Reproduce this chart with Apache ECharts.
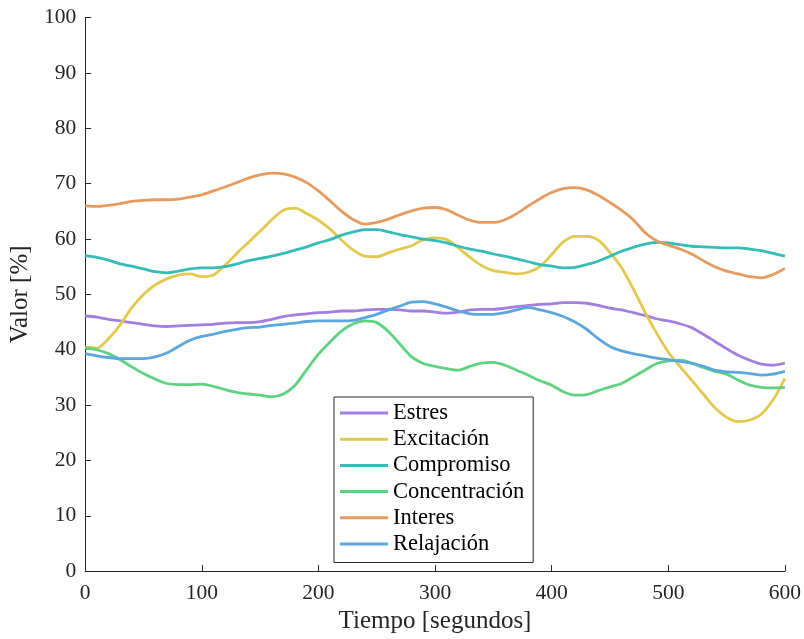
<!DOCTYPE html>
<html>
<head>
<meta charset="utf-8">
<script src="https://cdn.jsdelivr.net/npm/echarts@6/dist/echarts.min.js"></script>
<style>
  html, body { margin: 0; padding: 0; background: #fff; }
  #chart { width: 804px; height: 639px; }
</style>
</head>
<body>
<div id="chart"></div>
<script>
// Sample times in seconds (every 10 s)
const tiempo = [0,10,20,30,40,50,60,70,80,90,100,110,120,130,140,150,160,170,180,190,200,
  210,220,230,240,250,260,270,280,290,300,310,320,330,340,350,360,370,380,390,400,
  410,420,430,440,450,460,470,480,490,500,510,520,530,540,550,560,570,580,590,600];

const estres = [46.1,45.9,45.5,45.2,44.9,44.6,44.3,44.2,44.3,44.4,44.5,44.6,44.8,44.9,44.9,45.1,45.5,46.0,46.3,46.5,46.7,
  46.8,47.0,47.0,47.2,47.3,47.3,47.2,47.0,47.0,46.8,46.6,46.8,47.2,47.3,47.3,47.5,47.8,48.0,48.2,48.3,
  48.5,48.5,48.4,48.0,47.5,47.2,46.7,46.2,45.6,45.2,44.7,44.0,42.8,41.5,40.2,39.0,38.1,37.4,37.2,37.6];

const excitacion = [40.5,40.3,42.0,44.5,47.6,50.0,51.7,52.8,53.5,53.7,53.2,53.5,55.3,57.4,59.4,61.4,63.5,65.2,65.6,64.6,63.4,
  61.8,59.8,58.0,56.9,56.8,57.5,58.2,58.8,59.9,60.2,59.9,58.4,56.7,55.2,54.3,54.0,53.7,54.0,55.0,57.2,
  59.5,60.5,60.5,59.8,57.6,54.8,51.0,46.8,43.0,39.6,37.0,34.5,32.0,29.5,27.8,27.0,27.3,28.4,31.0,34.8];

const compromiso = [57.0,56.7,56.2,55.5,55.1,54.6,54.1,53.9,54.2,54.6,54.8,54.8,55.0,55.5,56.1,56.5,56.9,57.4,58.0,58.6,59.3,
  59.9,60.7,61.3,61.7,61.7,61.3,60.8,60.4,60.0,59.7,59.3,58.7,58.2,57.8,57.3,56.9,56.4,55.9,55.4,55.1,
  54.8,54.9,55.4,56.0,56.9,57.8,58.5,59.1,59.4,59.3,59.0,58.7,58.6,58.5,58.4,58.4,58.2,57.9,57.4,56.9];

const concentracion = [40.3,40.0,39.3,38.2,36.9,35.7,34.7,33.9,33.7,33.7,33.8,33.4,32.8,32.3,32.0,31.8,31.5,32.0,33.6,36.4,39.2,
  41.4,43.4,44.7,45.2,44.9,43.3,41.0,38.7,37.5,37.0,36.6,36.3,37.0,37.6,37.7,37.2,36.3,35.4,34.4,33.6,
  32.4,31.8,31.9,32.6,33.3,33.9,35.1,36.3,37.5,38.0,38.1,37.6,36.8,36.1,35.6,34.5,33.6,33.2,33.1,33.2];

const interes = [66.0,65.9,66.1,66.4,66.8,67.0,67.1,67.1,67.2,67.6,68.0,68.7,69.4,70.2,71.0,71.6,71.9,71.8,71.2,70.2,68.7,
  66.9,65.0,63.5,62.7,63.0,63.6,64.4,65.1,65.6,65.7,65.3,64.3,63.4,63.0,63.0,63.5,64.6,66.0,67.3,68.4,
  69.1,69.3,68.9,67.9,66.6,65.2,63.5,61.2,59.7,58.9,58.2,57.3,56.1,55.0,54.2,53.7,53.2,53.0,53.6,54.7];

const relajacion = [39.3,38.9,38.6,38.4,38.4,38.4,38.7,39.4,40.6,41.7,42.4,42.8,43.3,43.7,44.0,44.1,44.4,44.6,44.8,45.1,45.2,
  45.2,45.2,45.3,45.8,46.4,47.2,47.9,48.6,48.7,48.3,47.7,47.0,46.5,46.4,46.4,46.7,47.2,47.6,47.2,46.7,
  46.0,45.0,43.7,42.0,40.6,39.8,39.3,38.9,38.5,38.2,37.9,37.6,37.0,36.3,36.0,35.9,35.7,35.4,35.6,36.1];

const nombres = ['Estres', 'Excitación', 'Compromiso', 'Concentración', 'Interes', 'Relajación'];
const valores = [estres, excitacion, compromiso, concentracion, interes, relajacion];
const colores = ['#a07fe0', '#e2c84c', '#34bcb7', '#5fd27f', '#e59a5f', '#5ba6dd'];

const fuente = '"Liberation Serif", "Times New Roman", serif';
const tinta = '#262626';

const series = nombres.map((nombre, i) => ({
  name: nombre,
  type: 'line',
  data: tiempo.map((t, k) => [t, valores[i][k]]),
  symbol: 'none',
  smooth: 0.3,
  lineStyle: { width: 2.8, color: colores[i] },
  itemStyle: { color: colores[i] }
}));

const chart = echarts.init(document.getElementById('chart'), null, { renderer: 'canvas' });
chart.setOption({
  backgroundColor: '#ffffff',
  animation: false,
  textStyle: { fontFamily: fuente, color: tinta },
  grid: { left: 82.5, right: 18.7, top: 17.7, bottom: 66.7 },
  xAxis: {
    type: 'value',
    min: 0, max: 600, interval: 100,
    name: 'Tiempo [segundos]',
    nameLocation: 'middle',
    nameGap: 36,
    nameTextStyle: { fontFamily: fuente, fontSize: 25, color: tinta },
    axisLine: { lineStyle: { color: tinta, width: 1 } },
    axisTick: { inside: true, length: 6, lineStyle: { color: tinta } },
    axisLabel: { fontFamily: fuente, fontSize: 21.5, color: tinta, margin: 11 },
    splitLine: { show: false }
  },
  yAxis: {
    type: 'value',
    min: 0, max: 100, interval: 10,
    name: 'Valor [%]',
    nameLocation: 'middle',
    nameGap: 43,
    nameRotate: 90,
    nameTextStyle: { fontFamily: fuente, fontSize: 25, color: tinta },
    axisLine: { show: true, lineStyle: { color: tinta, width: 1 } },
    axisTick: { show: true, inside: true, length: 6, lineStyle: { color: tinta } },
    axisLabel: { fontFamily: fuente, fontSize: 21.5, color: tinta, margin: 9 },
    splitLine: { show: false }
  },
  legend: {
    orient: 'vertical',
    left: 334,
    top: 397,
    backgroundColor: '#ffffff',
    borderColor: tinta,
    borderWidth: 1,
    padding: [4.5, 9, 7, 6],
    itemWidth: 48,
    itemHeight: 3,
    itemGap: 3.2,
    icon: 'rect',
    textStyle: { fontFamily: fuente, fontSize: 22.5, color: '#000', lineHeight: 23 },
    data: nombres
  },
  series: series
});
</script>
</body>
</html>
